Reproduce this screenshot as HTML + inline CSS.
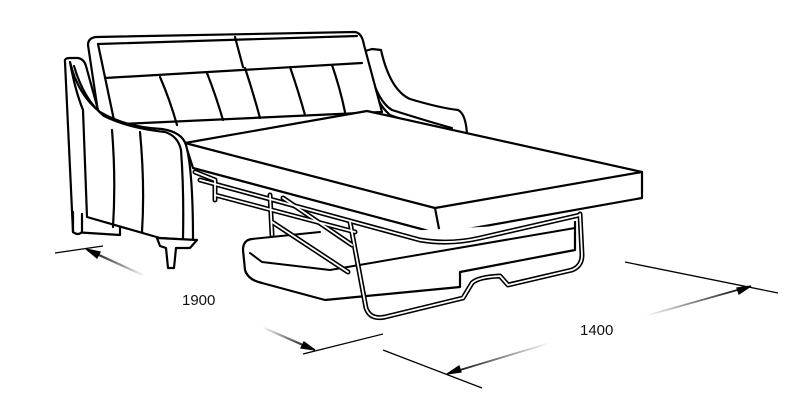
<!DOCTYPE html>
<html><head><meta charset="utf-8"><style>
html,body{margin:0;padding:0;background:#fff}
svg{display:block}
text{font-family:"Liberation Sans",sans-serif;font-size:15px;fill:#111}
</style></head><body>
<svg width="800" height="400" viewBox="0 0 800 400" xmlns="http://www.w3.org/2000/svg">
<defs>
<linearGradient id="g1" x1="0" y1="0" x2="1" y2="0"><stop offset="0" stop-color="#000"/><stop offset="1" stop-color="#000" stop-opacity="0"/></linearGradient>
<linearGradient id="g2" x1="1" y1="0" x2="0" y2="0"><stop offset="0" stop-color="#000"/><stop offset="1" stop-color="#000" stop-opacity="0"/></linearGradient>
</defs>
<g fill="none" stroke="#000" stroke-width="1.3">
<line x1="55" y1="253" x2="103" y2="246"/>
<line x1="88" y1="250" x2="145" y2="276" stroke="url(#g1)" stroke-width="2.2"/>
<polygon points="86,249 100,252 97,258" fill="#000"/>
<line x1="262" y1="327" x2="312" y2="349" stroke="url(#g2)" stroke-width="2.2"/>
<polygon points="315,350 301,348 304,342" fill="#000"/>
<line x1="303" y1="354" x2="383" y2="334"/>
<line x1="383" y1="350" x2="482" y2="388"/>
<line x1="450" y1="373" x2="550" y2="343" stroke="url(#g1)" stroke-width="1.8"/>
<polygon points="447,374 459,366 461,372" fill="#000"/>
<line x1="645" y1="316" x2="748" y2="287" stroke="url(#g2)" stroke-width="1.8"/>
<polygon points="751,286 739,294 737,288" fill="#000"/>
<line x1="625" y1="262" x2="778" y2="293"/>
</g>
<text x="182" y="305">1900</text>
<text x="580" y="335">1400</text>

<g fill="#fff" stroke="#000" stroke-width="2.2" stroke-linejoin="round" stroke-linecap="round">
<!-- right arm -->
<path d="M362,52 L372,49 L381,50 Q390,90 410,99 Q440,108 458,110 Q466,114 467,135 L440,140 Q420,125 390,115 Q372,100 364,55 Z"/>
<path d="M366,55 Q375,100 392,110 Q430,122 452,128" fill="none"/>
<!-- back -->
<path d="M88,45 Q88,38 96,37 L355,32 Q362,33 364,45 L382,112 L100,125 Z"/>
<path d="M98,44 L357,36" fill="none"/>
<path d="M235,37 L243,67" fill="none"/>
<path d="M105,78 L362,63" fill="none"/>
<path d="M98,44 L115,125 M160,77 Q170,100 177,125 M207,73 Q216,96 223,120 M245,68 Q253,92 260,118 M290,67 Q298,90 305,115 M332,65 Q340,88 345,112" fill="none"/>
<!-- left arm back -->
<path d="M65,62 Q64,58 70,58 L78,58 Q84,59 86,66 L100,117 L120,128 L120,235 L73,232 Z"/>
<!-- legs back -->
<path d="M73,212 L73,232 Q78,236 82,232 L82,214" />
<!-- mattress -->
<path d="M185,143 L367,111 L642,172 L642,198 L440,234 L193,168 Z"/>
<path d="M185,143 L435,208 L642,172 M435,208 L440,234" fill="none"/>
<!-- left arm front -->
<path d="M70,62 Q78,95 100,112 Q125,127 162,129 Q182,132 186,145 Q193,170 193,240 L160,238 L87,217 L83,110 Q75,90 70,62 Z"/>
<path d="M74,66 Q84,100 104,116 Q128,128 165,132 Q178,136 181,150 Q184,190 183,238" fill="none"/>
<path d="M112,130 Q116,180 113,227 M140,132 Q145,185 142,232" fill="none"/>
<path d="M157,238 L197,240 L190,248 L176,248 L174,268 L168,268 L166,248 L160,246 Z"/>
</g>

<g fill="none" stroke-linecap="round" stroke-linejoin="round">
<path d="M252,239 Q243,240 243,250 L245,270 Q248,280 262,283 L325,300 L460,287 L460,272 L575,250 L575,222" fill="#fff" stroke="#000" stroke-width="2.2"/>
<path d="M250,253 L262,262 L330,270 L575,228" stroke="#000" stroke-width="2"/>
<path d="M252,239 L320,232" stroke="#000" stroke-width="2"/>
<g stroke="#000" stroke-width="5">
<path d="M195,172 L215,180 L215,200"/>
<path d="M215,195 L355,232"/>
<path d="M270,195 L272,235"/>
<path d="M283,198 L352,245"/>
<path d="M272,222 L348,272"/>
<path d="M200,180 L420,240 Q450,245 480,238 L580,215"/>
<path d="M350,222 L366,308 Q370,320 385,317 L463,298 L472,283 Q478,277 500,276 L508,285 L572,270 Q582,266 582,255 L580,214"/>
</g>
<g stroke="#fff" stroke-width="1.8">
<path d="M195,172 L215,180 L215,200"/>
<path d="M215,195 L355,232"/>
<path d="M270,195 L272,235"/>
<path d="M283,198 L352,245"/>
<path d="M272,222 L348,272"/>
<path d="M200,180 L420,240 Q450,245 480,238 L580,215"/>
<path d="M350,222 L366,308 Q370,320 385,317 L463,298 L472,283 Q478,277 500,276 L508,285 L572,270 Q582,266 582,255 L580,214"/>
</g>
</g>
</svg>
</body></html>
